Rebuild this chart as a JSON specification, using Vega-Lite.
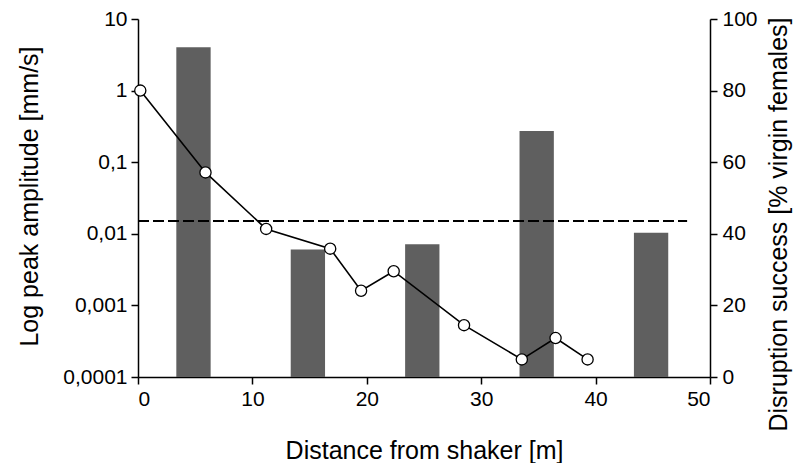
{
  "$schema": "https://vega.github.io/schema/vega-lite/v6.json",
  "width": 572,
  "height": 358,
  "autosize": {"type": "none"},
  "padding": {"left": 138, "top": 19, "right": 83, "bottom": 86},
  "config": {
    "view": {"stroke": null},
    "font": "Liberation Sans",
    "axis": {
      "grid": false,
      "domainColor": "#000000",
      "domainWidth": 1.5,
      "tickColor": "#000000",
      "tickWidth": 1.5,
      "tickSize": 7,
      "labelColor": "#000000",
      "titleColor": "#000000",
      "labelFont": "Liberation Sans",
      "titleFont": "Liberation Sans",
      "labelFontSize": 21,
      "titleFontSize": 25,
      "titleFontWeight": "normal",
      "labelPadding": 4
    }
  },
  "datasets": {
    "bars": [
      {"start": 3.35, "end": 6.35, "success": 92.1},
      {"start": 13.35, "end": 16.35, "success": 35.6},
      {"start": 23.35, "end": 26.35, "success": 37.1},
      {"start": 33.35, "end": 36.35, "success": 68.7},
      {"start": 43.35, "end": 46.35, "success": 40.3}
    ],
    "amp": [
      {"distance": 0.2, "amplitude": 1.0},
      {"distance": 5.9, "amplitude": 0.072},
      {"distance": 11.2, "amplitude": 0.0117},
      {"distance": 16.8, "amplitude": 0.0062},
      {"distance": 19.5, "amplitude": 0.0016},
      {"distance": 22.35, "amplitude": 0.0030},
      {"distance": 28.5, "amplitude": 0.00053},
      {"distance": 33.55, "amplitude": 0.000176},
      {"distance": 36.5, "amplitude": 0.00035},
      {"distance": 39.3, "amplitude": 0.000176}
    ],
    "threshold": [
      {"from": 0, "to": 48, "level": 0.0151}
    ]
  },
  "layer": [
    {
      "data": {"name": "bars"},
      "mark": {"type": "bar", "color": "#5f5f5f"},
      "encoding": {
        "x": {
          "field": "start", "type": "quantitative",
          "scale": {"domain": [0, 50], "nice": false},
          "axis": {"title": "Distance from shaker [m]", "values": [0, 10, 20, 30, 40, 50], "titleY": 81, "titleBaseline": "alphabetic"}
        },
        "x2": {"field": "end"},
        "y": {
          "field": "success", "type": "quantitative",
          "scale": {"domain": [0, 100], "nice": false},
          "axis": {"orient": "right", "title": "Disruption success [% virgin females]", "values": [0, 20, 40, 60, 80, 100], "labelPadding": 5, "titleAngle": 270, "titleFontSize": 25, "titleX": 76, "titleY": 205, "titleBaseline": "alphabetic"}
        },
        "y2": {"datum": 0}
      }
    },
    {
      "layer": [
        {
          "data": {"name": "threshold"},
          "mark": {"type": "rule", "color": "#000000", "strokeWidth": 2, "strokeDash": [11, 4]},
          "encoding": {
            "x": {"field": "from", "type": "quantitative"},
            "x2": {"field": "to"},
            "y": {"field": "level", "type": "quantitative"}
          }
        },
        {
          "data": {"name": "amp"},
          "mark": {"type": "line", "color": "#000000", "strokeWidth": 1.6},
          "encoding": {
            "x": {"field": "distance", "type": "quantitative"},
            "y": {"field": "amplitude", "type": "quantitative"}
          }
        },
        {
          "data": {"name": "amp"},
          "mark": {"type": "point", "shape": "circle", "filled": true, "fill": "#ffffff", "stroke": "#000000", "strokeWidth": 1.3, "size": 125, "opacity": 1},
          "encoding": {
            "x": {"field": "distance", "type": "quantitative"},
            "y": {"field": "amplitude", "type": "quantitative"}
          }
        }
      ],
      "encoding": {
        "y": {
          "type": "quantitative",
          "scale": {"type": "log", "domain": [0.0001, 10], "nice": false},
          "axis": {
            "orient": "left",
            "title": "Log peak amplitude [mm/s]",
            "values": [0.0001, 0.001, 0.01, 0.1, 1, 10],
            "labelExpr": "replace(toString(datum.value), '.', ',')",
            "titleX": -101,
            "titleY": 177,
            "titleBaseline": "alphabetic"
          }
        }
      }
    }
  ],
  "resolve": {"scale": {"y": "independent"}, "axis": {"y": "independent"}}
}
